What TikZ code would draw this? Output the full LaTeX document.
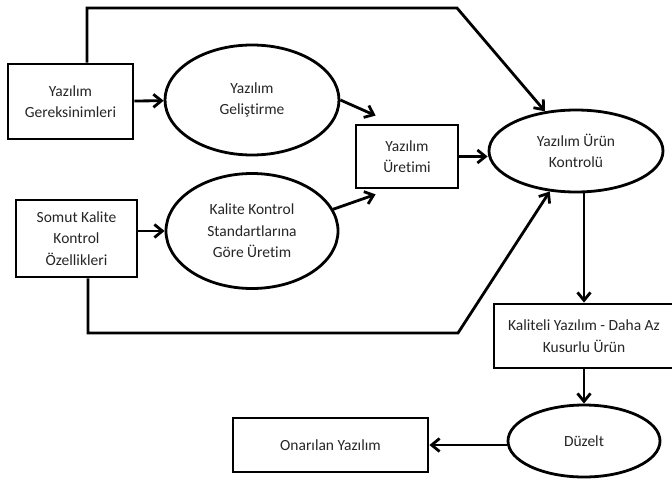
\documentclass[tikz,border=0pt]{standalone}
\usepackage{fontspec}
\setmainfont{Carlito}[Ligatures=NoCommon]
\usetikzlibrary{arrows.meta,positioning,calc,shapes}
\tikzset{kutu/.style={rectangle, draw=black, line width=2.8pt, fill=white, text=black!85, align=center, inner sep=0pt, font=\fontsize{15.5}{21.5}\selectfont},
	elips/.style={ellipse, draw=black, line width=2.8pt, fill=white, text=black!85, align=center, inner sep=0pt, font=\fontsize{15.5}{21.5}\selectfont},
	ok/.style={line width=2.8pt, -{Straight Barb[length=8pt,width=13pt]}}}

\begin{document}
\begin{tikzpicture}[x=1pt,y=-1pt]
		\useasboundingbox (0,0) rectangle (672,479);
		\clip (0,0) rectangle (672,479);
		\node[kutu, minimum width=125, minimum height=75] (gereksinim) at (70.5,101.5) {Yazılım\\Gereksinimleri};
		\node[elips, minimum width=174, minimum height=110] (gelistirme) at (252,100) {Yazılım\\Geliştirme};
		\node[kutu, minimum width=121, minimum height=77] (ozellik) at (76.5,238.5) {Somut Kalite\\Kontrol\\Özellikleri};
		\node[elips, minimum width=172, minimum height=115] (standart) at (252,231) {Kalite Kontrol\\Standartlarına\\Göre Üretim};
		\node[kutu, minimum width=102, minimum height=63] (uretim) at (407,156.5) {Yazılım\\Üretimi};
		\node[elips, minimum width=174, minimum height=82] (kontrol) at (576,151) {Yazılım Ürün\\Kontrolü};
		\node[kutu, minimum width=180, minimum height=64] (kaliteli) at (584,336) {Kaliteli Yazılım - Daha Az\\Kusurlu Ürün};
		\node[elips, minimum width=152, minimum height=72] (duzelt) at (584,441) {Düzelt};
		\node[kutu, minimum width=195, minimum height=54] (onarilan) at (330.5,445) {Onarılan Yazılım};
		\coordinate (ust) at (457,8);
		\coordinate (alt) at (458,333);
		\draw[ok] (gereksinim) -- (gelistirme);
		\draw[ok] (ozellik.east |- standart) -- (standart);
		\draw[ok] (gelistirme.east) -- ([shift={(21,-8)}]uretim.north west);
		\draw[ok] (standart.15) -- ([shift={(21,5)}]uretim.south west);
		\draw[ok] (uretim.east) -- (uretim.east -| kontrol.west);
		\draw[ok] ([xshift=16.5]gereksinim.north) |- (ust) -- (kontrol.128);
		\draw[ok] ([xshift=11.5]ozellik.south) |- (alt) -- (kontrol.237);
		\draw[ok] (kontrol.south -| kaliteli) -- (kaliteli.north);
		\draw[ok] (kaliteli.south) -- (duzelt.north);
		\draw[ok] (onarilan.east -| duzelt.west) -- (onarilan.east);
		\end{tikzpicture}
\end{document}
